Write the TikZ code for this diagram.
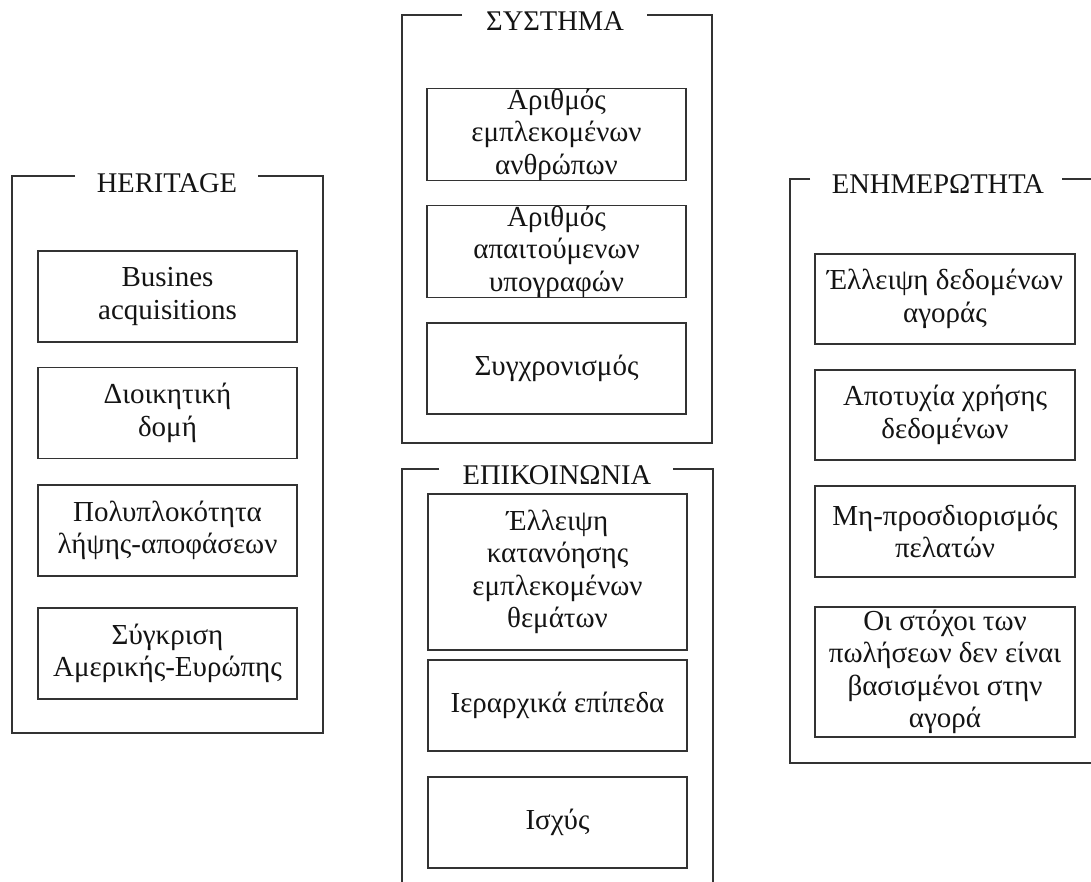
\documentclass[tikz,border=0pt]{standalone}
\usepackage{fontspec}
\setmainfont{Liberation Serif}
\begin{document}
\begin{tikzpicture}[x=1pt,y=-1pt,
  frameline/.style={draw=black!80, line width=1.3pt},
  item/.style={draw=black!80, line width=1.3pt, minimum width=259pt, minimum height=91pt,
               inner sep=0pt, align=center, font=\fontsize{29}{32.5}\selectfont, text=black!92},
  grouptitle/.style={anchor=base, inner sep=0pt, font=\fontsize{28.5}{32}\selectfont, text=black!92}]
\useasboundingbox (0,0) rectangle (1091,881);
\fill[white] (0,0) rectangle (1091,881);

% HERITAGE
\node[grouptitle] (th) at (167,192) {HERITAGE};
\draw[frameline] (75,176) -- (12,176) -- (12,733) -- (323,733) -- (323,176) -- (258,176);
\node[item] (h1) at (167.5,296.5) {Busines\\acquisitions};
\node[item] (h2) at (167.5,413) {Διοικητική\\δομή};
\node[item] (h3) at (167.5,530.5) {Πολυπλοκότητα\\λήψης-αποφάσεων};
\node[item] (h4) at (167.5,653.5) {Σύγκριση\\Αμερικής-Ευρώπης};

% SYSTHMA
\node[grouptitle] (ts) at (555,30) {ΣΥΣΤΗΜΑ};
\draw[frameline] (462,15) -- (402,15) -- (402,443) -- (712,443) -- (712,15) -- (647,15);
\node[item] (s1) at (556.5,134.5) {Αριθμός\\εμπλεκομένων\\ανθρώπων};
\node[item] (s2) at (556.5,251.5) {Αριθμός\\απαιτούμενων\\υπογραφών};
\node[item] (s3) at (556.5,368.5) {Συγχρονισμός};

% EPIKOINONIA
\node[grouptitle] (te) at (557,484) {ΕΠΙΚΟΙΝΩΝΙΑ};
\draw[frameline] (439,469) -- (402,469) -- (402,900) (713,900) -- (713,469) -- (673,469);
\node[item, minimum height=156pt] (e1) at (557.5,572) {Έλλειψη\\κατανόησης\\εμπλεκομένων\\θεμάτων};
\node[item] (e2) at (557.5,705.5) {Ιεραρχικά επίπεδα};
\node[item] (e3) at (557.5,822.5) {Ισχύς};

% ENHMEROTHTA
\node[grouptitle] (tn) at (938,193) {ΕΝΗΜΕΡΩΤΗΤΑ};
\draw[frameline] (810,179) -- (790,179) -- (790,763) -- (1100,763) (1100,179) -- (1062,179);
\node[item, minimum width=260pt, minimum height=90pt] (n1) at (945,299) {Έλλειψη δεδομένων\\αγοράς};
\node[item, minimum width=260pt, minimum height=90pt] (n2) at (945,415) {Αποτυχία χρήσης\\δεδομένων};
\node[item, minimum width=260pt] (n3) at (945,531.5) {Μη-προσδιορισμός\\πελατών};
\node[item, minimum width=260pt, minimum height=130pt] (n4) at (945,672) {Οι στόχοι των\\πωλήσεων δεν είναι\\βασισμένοι στην\\αγορά};
\end{tikzpicture}
\end{document}
